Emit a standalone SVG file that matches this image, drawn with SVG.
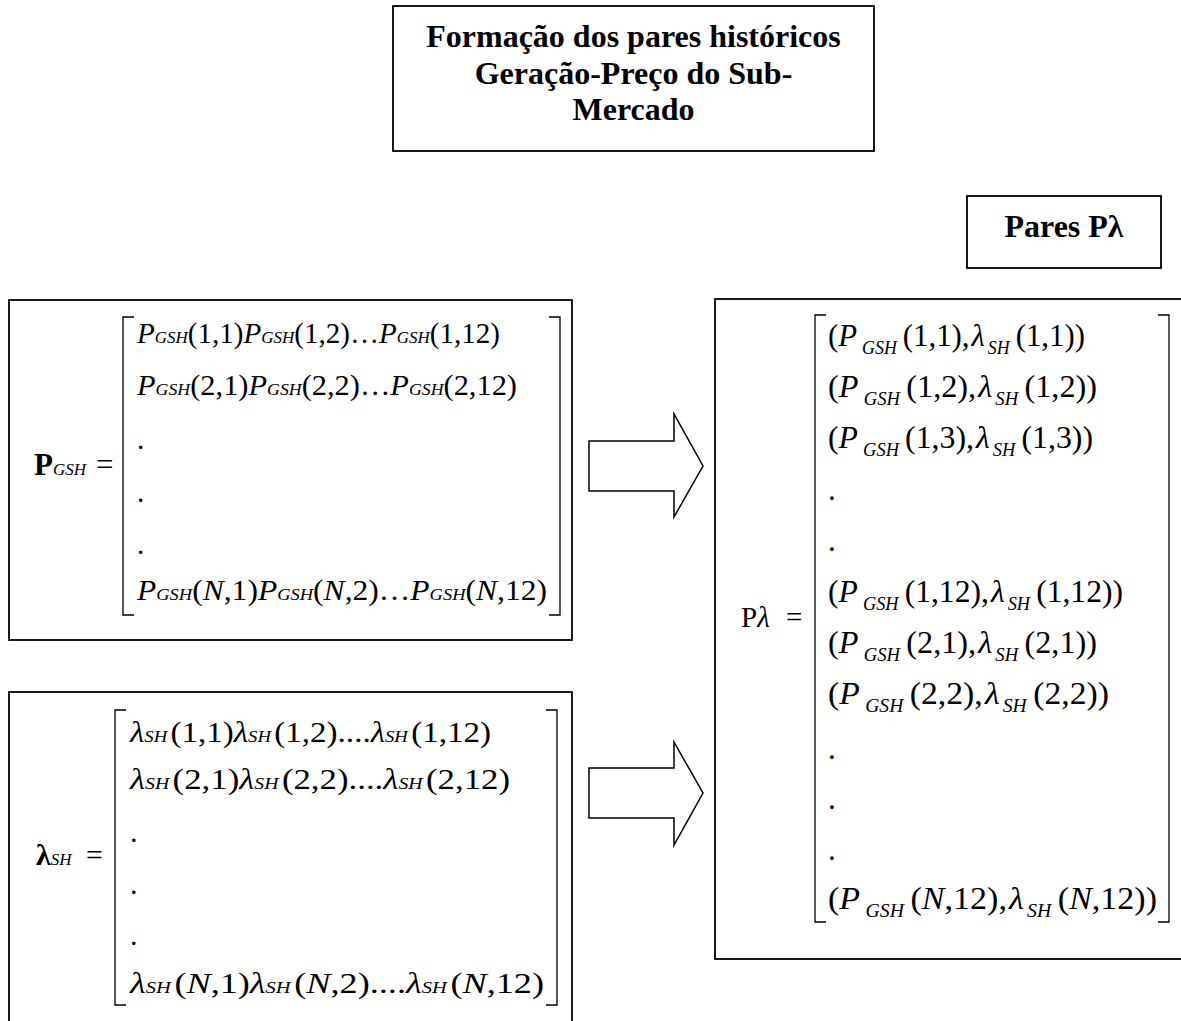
<svg xmlns="http://www.w3.org/2000/svg" width="1181" height="1021" viewBox="0 0 1181 1021">
<style>
.box{fill:none;stroke:#000;stroke-width:1.8}
.br{fill:none;stroke:#000;stroke-width:1.3}
.arrow{fill:#fff;stroke:#000;stroke-width:1.5;stroke-linejoin:miter}
text{font-family:"Liberation Serif","Times New Roman",serif;fill:#000}
.title{font-weight:bold;font-size:32px;text-anchor:middle}
.m{font-size:29px}
.mb{font-size:30px}
.mr{font-size:31px}
.i{font-style:italic}
.s{font-size:17px;font-style:italic}
.sb{font-size:18px;font-style:italic}
.b{font-weight:bold}
</style>
<rect width="1181" height="1021" fill="#fff"/>
<g id="title">
<rect class="box" x="393" y="6" width="481" height="145"/>
<text class="title" x="633.5" y="47">Formação dos pares históricos</text>
<text class="title" x="633.5" y="83.5">Geração-Preço do Sub-</text>
<text class="title" x="633.5" y="120">Mercado</text>
</g>
<g id="pares">
<rect class="box" x="967" y="196" width="194" height="72"/>
<text class="title" x="1064" y="237">Pares Pλ</text>
</g>
<g id="matrix-pgsh">
<rect class="box" x="9" y="300" width="563" height="340"/>
<text class="m" y="475" style="font-size:31px"><tspan class="b" x="34">P</tspan><tspan class="s">GSH</tspan><tspan x="96">=</tspan></text>
<path class="br" d="M134,317 H123 V615 H134"/>
<path class="br" d="M549,317 H560 V615 H549"/>
<text class="m" x="137" y="343" textLength="363" lengthAdjust="spacingAndGlyphs"><tspan class="i">P</tspan><tspan class="s">GSH</tspan>(1,1)<tspan class="i">P</tspan><tspan class="s">GSH</tspan>(1,2)…<tspan class="i">P</tspan><tspan class="s">GSH</tspan>(1,12)</text>
<text class="m" x="137" y="395" textLength="380" lengthAdjust="spacingAndGlyphs"><tspan class="i">P</tspan><tspan class="s">GSH</tspan>(2,1)<tspan class="i">P</tspan><tspan class="s">GSH</tspan>(2,2)…<tspan class="i">P</tspan><tspan class="s">GSH</tspan>(2,12)</text>
<text class="m" x="137" y="449">.</text>
<text class="m" x="137" y="502">.</text>
<text class="m" x="137" y="554">.</text>
<text class="m" x="137" y="600" textLength="410" lengthAdjust="spacingAndGlyphs"><tspan class="i">P</tspan><tspan class="s">GSH</tspan>(<tspan class="i">N</tspan>,1)<tspan class="i">P</tspan><tspan class="s">GSH</tspan>(<tspan class="i">N</tspan>,2)…<tspan class="i">P</tspan><tspan class="s">GSH</tspan>(<tspan class="i">N</tspan>,12)</text>
</g>
<g id="matrix-lsh">
<rect class="box" x="9" y="692" width="563" height="345"/>
<text class="mb" y="865"><tspan class="b" x="36">λ</tspan><tspan class="s">SH</tspan><tspan x="86">=</tspan></text>
<path class="br" d="M126,710 H115 V1005 H126"/>
<path class="br" d="M546,710 H557 V1005 H546"/>
<text class="mb" x="130" y="742" textLength="361" lengthAdjust="spacingAndGlyphs"><tspan class="i">λ</tspan><tspan class="s">SH</tspan><tspan dx="3">(1,1)</tspan><tspan class="i">λ</tspan><tspan class="s">SH</tspan><tspan dx="3">(1,2)....</tspan><tspan class="i">λ</tspan><tspan class="s">SH</tspan><tspan dx="3">(1,12)</tspan></text>
<text class="mb" x="130" y="789" textLength="380" lengthAdjust="spacingAndGlyphs"><tspan class="i">λ</tspan><tspan class="s">SH</tspan><tspan dx="3">(2,1)</tspan><tspan class="i">λ</tspan><tspan class="s">SH</tspan><tspan dx="3">(2,2)....</tspan><tspan class="i">λ</tspan><tspan class="s">SH</tspan><tspan dx="3">(2,12)</tspan></text>
<text class="mb" x="130" y="842">.</text>
<text class="mb" x="130" y="894">.</text>
<text class="mb" x="130" y="945">.</text>
<text class="mb" x="130" y="993" textLength="414" lengthAdjust="spacingAndGlyphs"><tspan class="i">λ</tspan><tspan class="s">SH</tspan><tspan dx="3">(</tspan><tspan class="i">N</tspan>,1)<tspan class="i">λ</tspan><tspan class="s">SH</tspan><tspan dx="3">(</tspan><tspan class="i">N</tspan>,2)....<tspan class="i">λ</tspan><tspan class="s">SH</tspan><tspan dx="3">(</tspan><tspan class="i">N</tspan>,12)</text>
</g>
<g id="matrix-plambda">
<rect class="box" x="715" y="299" width="480" height="660"/>
<text style="font-size:29px" y="627"><tspan x="741">P</tspan><tspan class="i">λ</tspan><tspan x="786">=</tspan></text>
<path class="br" d="M826,315 H815 V922 H826"/>
<path class="br" d="M1158,315 H1169 V922 H1158"/>
<text class="mr" x="828" y="346" textLength="257" lengthAdjust="spacingAndGlyphs">(<tspan class="i">P</tspan><tspan class="sb" dx="5" dy="8">GSH</tspan><tspan dx="6" dy="-8">(1,1),</tspan><tspan class="i" dx="2">λ</tspan><tspan class="sb" dx="3" dy="8">SH</tspan><tspan dx="6" dy="-8">(1,1))</tspan></text>
<text class="mr" x="828" y="397.2" textLength="269" lengthAdjust="spacingAndGlyphs">(<tspan class="i">P</tspan><tspan class="sb" dx="5" dy="8">GSH</tspan><tspan dx="6" dy="-8">(1,2),</tspan><tspan class="i" dx="2">λ</tspan><tspan class="sb" dx="3" dy="8">SH</tspan><tspan dx="6" dy="-8">(1,2))</tspan></text>
<text class="mr" x="828" y="448.4" textLength="265" lengthAdjust="spacingAndGlyphs">(<tspan class="i">P</tspan><tspan class="sb" dx="5" dy="8">GSH</tspan><tspan dx="6" dy="-8">(1,3),</tspan><tspan class="i" dx="2">λ</tspan><tspan class="sb" dx="3" dy="8">SH</tspan><tspan dx="6" dy="-8">(1,3))</tspan></text>
<text class="mr" x="828" y="500">.</text>
<text class="mr" x="828" y="551">.</text>
<text class="mr" x="828" y="602" textLength="295" lengthAdjust="spacingAndGlyphs">(<tspan class="i">P</tspan><tspan class="sb" dx="5" dy="8">GSH</tspan><tspan dx="6" dy="-8">(1,12),</tspan><tspan class="i" dx="2">λ</tspan><tspan class="sb" dx="3" dy="8">SH</tspan><tspan dx="6" dy="-8">(1,12))</tspan></text>
<text class="mr" x="828" y="653.2" textLength="269" lengthAdjust="spacingAndGlyphs">(<tspan class="i">P</tspan><tspan class="sb" dx="5" dy="8">GSH</tspan><tspan dx="6" dy="-8">(2,1),</tspan><tspan class="i" dx="2">λ</tspan><tspan class="sb" dx="3" dy="8">SH</tspan><tspan dx="6" dy="-8">(2,1))</tspan></text>
<text class="mr" x="828" y="704.4" textLength="281" lengthAdjust="spacingAndGlyphs">(<tspan class="i">P</tspan><tspan class="sb" dx="5" dy="8">GSH</tspan><tspan dx="6" dy="-8">(2,2),</tspan><tspan class="i" dx="2">λ</tspan><tspan class="sb" dx="3" dy="8">SH</tspan><tspan dx="6" dy="-8">(2,2))</tspan></text>
<text class="mr" x="828" y="759">.</text>
<text class="mr" x="828" y="809">.</text>
<text class="mr" x="828" y="860">.</text>
<text class="mr" x="828" y="909" textLength="329" lengthAdjust="spacingAndGlyphs">(<tspan class="i">P</tspan><tspan class="sb" dx="5" dy="8">GSH</tspan><tspan dx="6" dy="-8">(</tspan><tspan class="i">N</tspan>,12),<tspan class="i" dx="2">λ</tspan><tspan class="sb" dx="3" dy="8">SH</tspan><tspan dx="6" dy="-8">(</tspan><tspan class="i">N</tspan>,12))</text>
</g>
<g id="connectors">
<polygon class="arrow" points="589,441 674,441 674,414 703,466 674,517 674,491 589,491"/>
<polygon class="arrow" points="589,768 674,768 674,742 703,793 674,845 674,818 589,818"/>
</g>
</svg>
